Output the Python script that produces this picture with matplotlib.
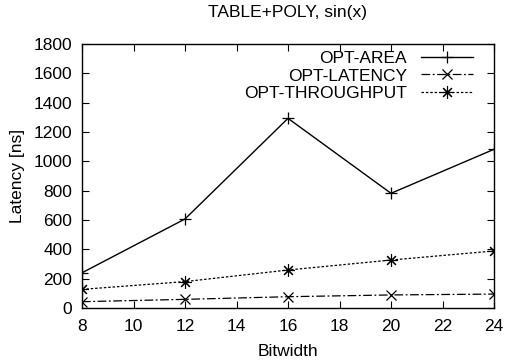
import matplotlib
matplotlib.use("Agg")
import matplotlib.pyplot as plt

plt.rcParams["font.family"] = ["Liberation Sans", "DejaVu Sans"]

bitwidth = [8, 12, 16, 20, 24]
opt_area = [240, 607, 1293, 782, 1082]
opt_latency = [43, 59, 77, 89, 95]
opt_throughput = [127, 180, 259, 327, 389]

fig = plt.figure(figsize=(5.07, 3.61), dpi=100)
ax = fig.add_axes([82 / 507, 1 - 308 / 361, 412 / 507, 264 / 361])

star = (8, 2, 0)
ax.plot(bitwidth, opt_area, color="black", lw=1.0, marker="+", ms=9,
        mew=0.9, label="OPT-AREA")
ax.plot(bitwidth, opt_latency, color="black", lw=0.9, ls=(0, (7, 2, 1.5, 2)),
        marker="x", ms=7, mew=0.9, label="OPT-LATENCY")
ax.plot(bitwidth, opt_throughput, color="black", lw=0.9, ls=(0, (2, 1.5)),
        marker=star, ms=9, mew=0.8, label="OPT-THROUGHPUT")

ax.set_xlim(8, 24)
ax.set_ylim(0, 1800)
ax.set_xticks(range(8, 25, 2))
ax.set_yticks(range(0, 1801, 200))
ax.tick_params(direction="in", top=True, right=True, length=5,
               labelsize=12.5)
ax.tick_params(axis="x", pad=8)
ax.tick_params(axis="y", pad=7)
for s in ax.spines.values():
    s.set_linewidth(1.0)

ax.set_xlabel("Bitwidth", fontsize=12.5, labelpad=7)
ax.set_ylabel("Latency [ns]", fontsize=12.5, labelpad=6)
fig.text(288 / 507, 1 - 12 / 361, "TABLE+POLY, sin(x)", fontsize=12.5,
         ha="center", va="center")

ax.legend(loc="upper right", bbox_to_anchor=(1 - 14 / 412, 1),
          frameon=False, markerfirst=False, fontsize=12.5,
          handlelength=3.0, labelspacing=0.13, borderaxespad=0.2,
          handletextpad=0.8, borderpad=0.2)

fig.savefig("out.png", dpi=100)
